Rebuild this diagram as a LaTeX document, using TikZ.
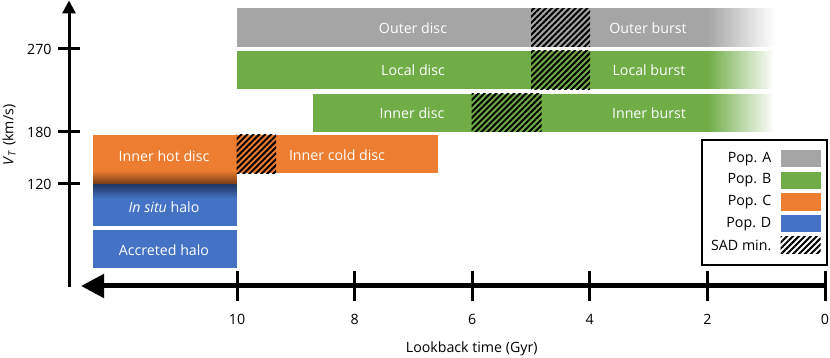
\documentclass[tikz,border=0pt]{standalone}
\usepackage{fontspec}
\setmainfont{Open Sans}
\usetikzlibrary{arrows.meta,patterns.meta}

\definecolor{popA}{HTML}{A5A5A5}
\definecolor{popB}{HTML}{70AD47}
\definecolor{popC}{HTML}{ED7D31}
\definecolor{popD}{HTML}{4472C4}
\definecolor{darkC}{HTML}{6E3512}
\definecolor{darkD}{HTML}{1F3864}

\tikzset{
  barlabel/.style={text=white, inner sep=0pt},
  hatch/.style={pattern={Lines[angle=45,distance=2.1pt,line width=1pt]}, pattern color=black},
  tickline/.style={line width=1.5pt},
}

\begin{document}
\begin{tikzpicture}[x=0.5pt, y=0.5pt, font=\fontsize{7.1}{9}\selectfont]
    \useasboundingbox (0,0) rectangle (830,358);
    % Population A and B bars
    \fill[popA] (236.7,311.3) rectangle (707.5,349.7);
    \fill[popB] (236.7,268.7) rectangle (707.5,307.3);
    \fill[popB] (312.5,226.3) rectangle (707.5,264.3);
    % Fade towards the present
    \foreach \col/\ya/\yb in {popA/311.3/349.7, popB/268.7/307.3, popB/226.3/264.3}
      \foreach \i in {0,...,33}{
        \pgfmathtruncatemacro\c{100-3*\i}
        \fill[\col!\c!white] ({707+2*\i},\ya) rectangle ({709.3+2*\i},\yb);
      }
    \fill[hatch] (531,311.3) rectangle (590,349.7);
    \fill[hatch] (531,268.7) rectangle (590,307.3);
    \fill[hatch] (471.7,226.3) rectangle (541.7,264.3);
    \node[barlabel] (outerdisc) at (413,330) {Outer disc};
    \node[barlabel] (outerburst) at (648,330) {Outer burst};
    \node[barlabel] (localdisc) at (413,288) {Local disc};
    \node[barlabel] (localburst) at (649,288) {Local burst};
    \node[barlabel] (innerdisc) at (412,245) {Inner disc};
    \node[barlabel] (innerburst) at (649,245) {Inner burst};
    % Population C
    \fill[popC] (92.7,187.5) rectangle (236.7,223);
    \foreach \i in {0,...,6}{
      \pgfmathtruncatemacro\c{100-14*\i}
      \fill[popC!\c!darkC] (92.7,{188-2*\i}) rectangle (236.7,{185.7-2*\i});
    }
    \node[barlabel] (innerhot) at (164,202) {Inner hot disc};
    \fill[popC] (236.7,184.7) rectangle (438.3,223);
    \fill[hatch] (236.7,184.7) rectangle (276,223);
    \node[barlabel] (innercold) at (337,203) {Inner cold disc};
    % Population D
    \fill[popD] (92.7,132) rectangle (236.7,160.5);
    \foreach \i in {0,...,6}{
      \pgfmathtruncatemacro\c{100-14*\i}
      \fill[darkD!\c!popD] (92.7,{174-2*\i}) rectangle (236.7,{171.7-2*\i});
    }
    \node[barlabel] (insitu) at (164,151) {\textit{In situ} halo};
    \fill[popD] (92.7,90) rectangle (236.7,128);
    \node[barlabel] (accreted) at (164,108) {Accreted halo};
    % Axes
    \draw[line width=1.5pt, -{Triangle[length=6.5pt,width=6.5pt]}] (69,71) -- (69,357.5);
    \draw[line width=2.5pt, -{Triangle[length=11.5pt,width=11.5pt]}] (825,72) -- (81,72);
    \foreach \t in {0,2,4,6,8,10}
      \draw[tickline] ({825-58.8*\t},57) -- ({825-58.8*\t},87)
        node[pos=0, below=6pt, inner sep=0pt] (xt\t) {\t};
    \foreach \v/\y in {270/309,180/226,120/174}
      \draw[tickline] (58,\y) -- (80,\y)
        node[pos=0, left=2.5pt, inner sep=0pt] (yt\v) {\v};
    \node[rotate=90, inner sep=0pt] (ylabel) at (9,223) {\textit{V}\textsubscript{\textit{T}} (km/s)};
    \node[inner sep=0pt] (xlabel) at (471.7,9) {Lookback time (Gyr)};
    % Legend
    \draw[line width=1pt, fill=white] (701.7,93) rectangle (826.7,218);
    \foreach \p [count=\i] in {A,B,C,D}{
      \fill[pop\p] (780.7,{199.3-21.65*(\i-1)-8.7}) rectangle (820.7,{199.3-21.65*(\i-1)+8.7});
      \node[anchor=east, inner sep=0pt] (leg\p) at (771.7,{199.3-21.65*(\i-1)}) {Pop. \p};
    }
    \fill[hatch] (780.7,104) rectangle (820.7,121.4);
    \node[anchor=east, inner sep=0pt] (legSAD) at (771.7,112.7) {SAD min.};
\end{tikzpicture}
\end{document}
